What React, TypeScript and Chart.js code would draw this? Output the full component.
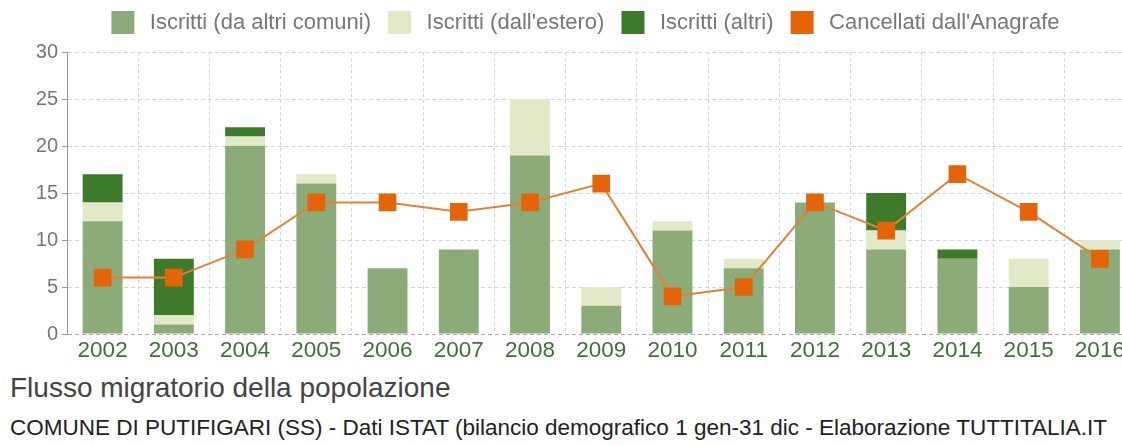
import React, { useEffect, useRef } from "react";
import { Chart, registerables } from "chart.js";

Chart.register(...registerables);

const years = ["2002", "2003", "2004", "2005", "2006", "2007", "2008", "2009", "2010", "2011", "2012", "2013", "2014", "2015", "2016"];
const iscrittiComuni = [12, 1, 20, 16, 7, 9, 19, 3, 11, 7, 14, 9, 8, 5, 9];
const iscrittiEstero = [2, 1, 1, 1, 0, 0, 6, 2, 1, 1, 0, 2, 0, 3, 1];
const iscrittiAltri = [3, 6, 1, 0, 0, 0, 0, 0, 0, 0, 0, 4, 1, 0, 0];
const cancellati = [6, 6, 9, 14, 14, 13, 14, 16, 4, 5, 14, 11, 17, 13, 8];
const seriesLabels = ["Iscritti (da altri comuni)", "Iscritti (dall'estero)", "Iscritti (altri)", "Cancellati dall'Anagrafe"];
const yMin = 0;
const yMax = 30;
const yStep = 5;
const titleText = "Flusso migratorio della popolazione";
const subtitleText = "COMUNE DI PUTIFIGARI (SS) - Dati ISTAT (bilancio demografico 1 gen-31 dic - Elaborazione TUTTITALIA.IT";

const FONT = '"Liberation Sans", Arial, Helvetica, sans-serif';
const C_COMUNI = "#8bac79";
const C_ESTERO = "#e1e9c9";
const C_ALTRI = "#3d7b2b";
const C_LINE = "#e0823a";
const C_MARK = "#e5640a";

const legendHeightPlugin = {
  id: "legendHeight",
  afterInit(chart: any) {
    const lg = chart.legend;
    if (!lg || lg._patchedFit) return;
    const orig = lg.fit;
    lg.fit = function () {
      orig.call(this);
      this.height = 52;
    };
    lg._patchedFit = true;
  },
};

export default function App() {
  const ref = useRef<HTMLCanvasElement>(null);

  useEffect(() => {
    const canvas = ref.current;
    if (!canvas) return;
    const defaultGen = (Chart as any).defaults.plugins.legend.labels.generateLabels;
    const chart = new Chart(canvas, {
      type: "bar",
      plugins: [legendHeightPlugin as any],
      data: {
        labels: years,
        datasets: [
          {
            type: "line",
            label: seriesLabels[3],
            data: cancellati,
            stack: "canc",
            borderColor: C_LINE,
            backgroundColor: C_MARK,
            borderWidth: 2,
            pointStyle: "rect",
            pointRadius: 12.5,
            pointHoverRadius: 12.5,
            pointBackgroundColor: C_MARK,
            pointBorderColor: C_MARK,
            pointBorderWidth: 0,
            tension: 0,
            fill: false,
          } as any,
          { label: seriesLabels[0], data: iscrittiComuni, backgroundColor: C_COMUNI, stack: "iscr", borderWidth: 0 },
          { label: seriesLabels[1], data: iscrittiEstero, backgroundColor: C_ESTERO, stack: "iscr", borderWidth: 0 },
          { label: seriesLabels[2], data: iscrittiAltri, backgroundColor: C_ALTRI, stack: "iscr", borderWidth: 0 },
        ],
      },
      options: {
        responsive: false,
        animation: false,
        devicePixelRatio: 1,
        layout: { padding: { left: 37, right: 8, top: 0, bottom: 0 } },
        datasets: { bar: { barPercentage: 0.56, categoryPercentage: 1 } } as any,
        plugins: {
          tooltip: { enabled: false },
          legend: {
            display: true,
            position: "top",
            align: "center",
            labels: {
              boxWidth: 23,
              boxHeight: 23,
              padding: 11,
              color: "#777",
              font: { family: FONT, size: 22 },
              generateLabels: (c: any) =>
                defaultGen(c).map((l: any) => ({ ...l, text: "\u2009" + l.text + " ", lineWidth: 0, strokeStyle: l.fillStyle })),
              sort: (a: any, b: any) => {
                const k = (x: any) => (x.datasetIndex === 0 ? 99 : x.datasetIndex);
                return k(a) - k(b);
              },
            },
          } as any,
        },
        scales: {
          x: {
            stacked: true,
            offset: true,
            grid: { offset: true, color: "#d4d4d4", drawTicks: false, lineWidth: 1 },
            border: { display: false, dash: [3, 3] },
            ticks: { color: "#40703a", font: { family: FONT, size: 22.5 }, padding: 3, maxRotation: 0, autoSkip: false },
          },
          y: {
            stacked: true,
            min: yMin,
            max: yMax,
            afterFit: (s: any) => {
              s.width = 30;
            },
            grid: {
              color: (ctx: any) => (ctx.tick && ctx.tick.value === 0 ? "#aaaaaa" : "#d4d4d4"),
              tickColor: "#999",
              tickLength: 5,
              drawTicks: true,
            },
            border: { display: true, color: "#999", width: 1, dash: [4, 3] },
            ticks: { stepSize: yStep, color: "#777", font: { family: FONT, size: 20 }, padding: 4 },
          },
        } as any,
      },
    });
    return () => chart.destroy();
  }, []);

  return (
    <div style={{ position: "fixed", left: 0, top: 0, width: 1122, height: 446, overflow: "hidden", background: "#fff" }}>
      <canvas ref={ref} width={1148} height={367} style={{ position: "absolute", left: 0, top: 0, width: 1148, height: 367 }} />
      <div style={{ position: "absolute", left: 10, top: 374, fontFamily: FONT, fontSize: 28, lineHeight: "28px", color: "#444", whiteSpace: "nowrap" }}>
        {titleText}
      </div>
      <div style={{ position: "absolute", left: 10, top: 417, fontFamily: FONT, fontSize: 22.5, lineHeight: "22.5px", color: "#222", whiteSpace: "nowrap" }}>
        {subtitleText}
      </div>
    </div>
  );
}
